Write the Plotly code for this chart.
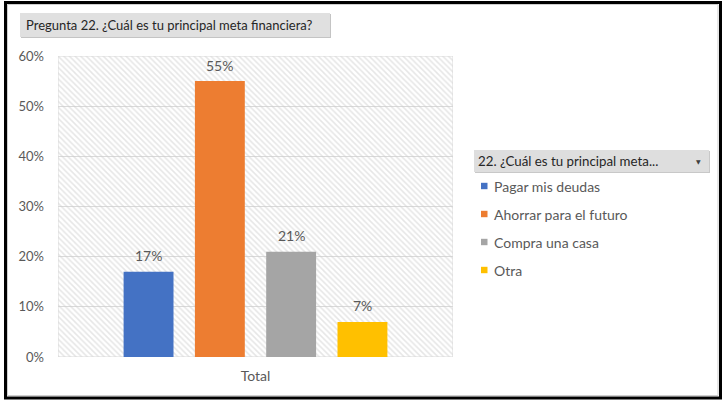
import plotly.graph_objects as go

# ---- data ----
categories = ["Pagar mis deudas", "Ahorrar para el futuro", "Compra una casa", "Otra"]
values = [0.17, 0.55, 0.21, 0.07]
group_label = "Total"
colors = ["#4472C4", "#ED7D31", "#A5A5A5", "#FFC000"]
y_ticks = [0, 0.1, 0.2, 0.3, 0.4, 0.5, 0.6]
title_text = "Pregunta 22. ¿Cuál es tu principal meta financiera?"
legend_header = "22. ¿Cuál es tu principal meta..."

# ---- layout constants ----
W, H = 722, 404
ML, MR, MT, MB = 58, 269, 56, 47
PW = W - ML - MR
PH = H - MT - MB
BARGAP = 0.278
GROUPGAP = 0.30
FONT = "Lato"
GREY_TXT = "#595959"


def px(x):
    return (x - ML) / PW


def py(y):
    return (H - MB - y) / PH


fig = go.Figure()

# hatched plot-area background
fig.add_trace(go.Bar(
    x=[0.5], y=[y_ticks[-1]], width=[1], xaxis="x", yaxis="y",
    marker=dict(color="rgba(0,0,0,0)",
                pattern=dict(shape="\\", fgcolor="#cdcdcd", bgcolor="rgba(0,0,0,0)",
                             size=4, solidity=0.38),
                line=dict(width=1, color="#d9d9d9")),
    hoverinfo="skip", showlegend=False))

for name, v, c in zip(categories, values, colors):
    fig.add_trace(go.Bar(x=[group_label], y=[v], name=name, marker_color=c,
                         marker_line_width=0, xaxis="x2", yaxis="y", showlegend=False))

n = len(values)
slot = PW * (1 - BARGAP) / n
annotations = []
for i, v in enumerate(values):
    annotations.append(dict(x=group_label, xref="x2", y=v, yref="y",
                            xshift=(i - (n - 1) / 2) * slot, yshift=16,
                            text=f"{v:.0%}", showarrow=False, yanchor="middle",
                            font=dict(family=FONT, size=14, color=GREY_TXT)))

shapes = []
# outer border
shapes.append(dict(type="rect", xref="paper", yref="paper",
                   x0=px(5.5), x1=px(720.5), y0=py(398), y1=py(2.5),
                   line=dict(color="black", width=3), fillcolor="rgba(0,0,0,0)", layer="above"))
shapes.append(dict(type="rect", xref="paper", yref="paper",
                   x0=px(7.5), x1=px(718), y0=py(395.5), y1=py(4.5),
                   line=dict(color="#cfcfcf", width=1), fillcolor="rgba(0,0,0,0)", layer="above"))
# title box
shapes.append(dict(type="rect", xref="paper", yref="paper",
                   x0=px(21), x1=px(331), y0=py(38), y1=py(14),
                   line=dict(width=0), fillcolor="#c4c4c4", layer="below"))
shapes.append(dict(type="rect", xref="paper", yref="paper",
                   x0=px(20), x1=px(330), y0=py(37), y1=py(13),
                   line=dict(width=0), fillcolor="#e0e0e0", layer="below"))
annotations.append(dict(x=px(24), y=py(25.5), xref="paper", yref="paper", text=title_text,
                        showarrow=False, xanchor="left", yanchor="middle",
                        font=dict(family=FONT, size=13, color="#262626")))
# legend header
shapes.append(dict(type="rect", xref="paper", yref="paper",
                   x0=px(475), x1=px(710), y0=py(173), y1=py(151),
                   line=dict(width=0), fillcolor="#c8c8c8", layer="below"))
shapes.append(dict(type="rect", xref="paper", yref="paper",
                   x0=px(474), x1=px(709), y0=py(172), y1=py(150),
                   line=dict(width=0), fillcolor="#dedede", layer="below"))
annotations.append(dict(x=px(476), y=py(161), xref="paper", yref="paper", text=legend_header,
                        showarrow=False, xanchor="left", yanchor="middle",
                        font=dict(family=FONT, size=13.3, color="#262626")))
annotations.append(dict(x=px(698), y=py(161), xref="paper", yref="paper", text="▼",
                        showarrow=False, xanchor="center", yanchor="middle",
                        font=dict(family="DejaVu Sans", size=6, color="#404040")))
# legend entries
for i, (name, c) in enumerate(zip(categories, colors)):
    yc = 186 + 28 * i
    shapes.append(dict(type="rect", xref="paper", yref="paper",
                       x0=px(481), x1=px(487.5), y0=py(yc + 3.2), y1=py(yc - 3.2),
                       line=dict(width=0), fillcolor=c))
    annotations.append(dict(x=px(492), y=py(yc), xref="paper", yref="paper", text=name,
                            showarrow=False, xanchor="left", yanchor="middle",
                            font=dict(family=FONT, size=14, color=GREY_TXT)))

fig.update_layout(
    width=W, height=H,
    margin=dict(l=ML, r=MR, t=MT, b=MB, pad=0),
    paper_bgcolor="white", plot_bgcolor="white",
    barmode="group", bargap=BARGAP, bargroupgap=GROUPGAP,
    showlegend=False,
    font=dict(family=FONT, size=13, color=GREY_TXT),
    xaxis=dict(range=[0, 1], visible=False, fixedrange=True),
    xaxis2=dict(overlaying="x", type="category", range=[-0.5, 0.5], showgrid=False,
                zeroline=False, showline=False, ticks="", ticklabelstandoff=9,
                tickfont=dict(family=FONT, size=14, color=GREY_TXT)),
    yaxis=dict(range=[0, y_ticks[-1]], tickvals=y_ticks, tickformat=".0%",
               gridcolor="#d9d9d9", gridwidth=1, zeroline=False, showline=False,
               ticks="", ticklabelstandoff=13,
               tickfont=dict(family=FONT, size=13, color=GREY_TXT)),
    shapes=shapes, annotations=annotations,
)

fig.write_html("out.html", config={"displayModeBar": False},
               post_script="document.body.style.margin='0';")
